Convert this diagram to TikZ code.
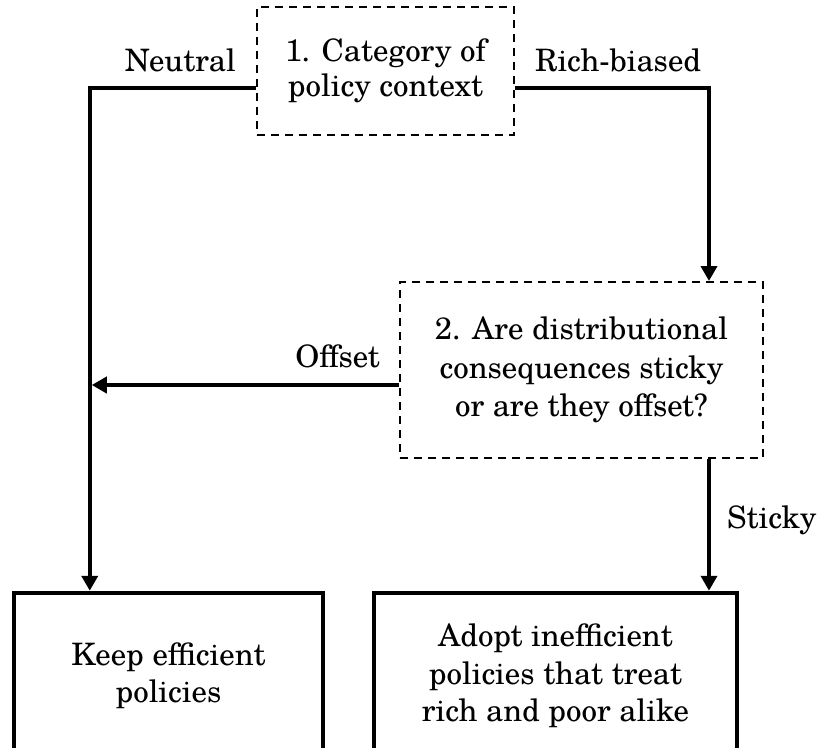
\documentclass[tikz,border=0pt]{standalone}
\usepackage{fontspec}
\setmainfont{TeX Gyre Schola}
\usetikzlibrary{arrows.meta,calc}
\begin{document}
\begin{tikzpicture}[x=1bp,y=-1bp,
  lbl/.style={font=\fontsize{31}{37.5}\selectfont, inner sep=0pt},
  dbox/.style={draw, line width=2bp, dash pattern=on 8bp off 6bp, align=center, inner sep=0pt},
  sbox/.style={draw, line width=4.5bp, align=center, inner sep=0pt,
    font=\fontsize{31}{37.5}\selectfont},
  conn/.style={line width=4bp},
  arr/.style={conn, -{Triangle[width=16bp,length=15bp]}}]
\useasboundingbox (0,0) rectangle (819,748);
% nodes
\node[dbox, minimum width=257bp, minimum height=128bp,
  font=\fontsize{31}{35}\selectfont] (b1) at (385.5,71) {1. Category of\\policy context};
\node[dbox, minimum width=363bp, minimum height=176bp,
  font=\fontsize{31}{38.5}\selectfont] (b2) at (581.5,370)
  {2. Are distributional\\consequences sticky\\or are they offset?};
\node[sbox, minimum width=309bp, minimum height=166bp] (lk) at (168.5,676)
  {Keep efficient\\policies};
\node[sbox, minimum width=363bp, minimum height=166bp] (ad) at (555.5,676)
  {Adopt inefficient\\policies that treat\\rich and poor alike};
% connectors
\coordinate (nstart) at ([yshift=-17bp]b1.west);
\coordinate (nend) at ([xshift=78bp]lk.north west);
\draw[arr] (nstart) -| (nend);
\coordinate (rstart) at ([yshift=-17bp]b1.east);
\coordinate (rend) at ([xshift=-55bp]b2.north east);
\draw[arr] (rstart) -| (rend);
\coordinate (ostart) at ([yshift=-15bp]b2.west);
\draw[arr] (ostart) -- ([xshift=2bp]ostart -| nend);
\coordinate (sstart) at ([xshift=-55bp]b2.south east);
\draw[arr] (sstart) -- (sstart |- ad.north);
% labels
\node[lbl, anchor=base east] (ln) at (236,72) {Neutral};
\node[lbl, anchor=base west] (lr) at (535,72) {Rich-biased};
\node[lbl, anchor=base east] (lo) at (380,367) {Offset};
\node[lbl, anchor=base west] (ls) at (727,528) {Sticky};
\end{tikzpicture}
\end{document}
